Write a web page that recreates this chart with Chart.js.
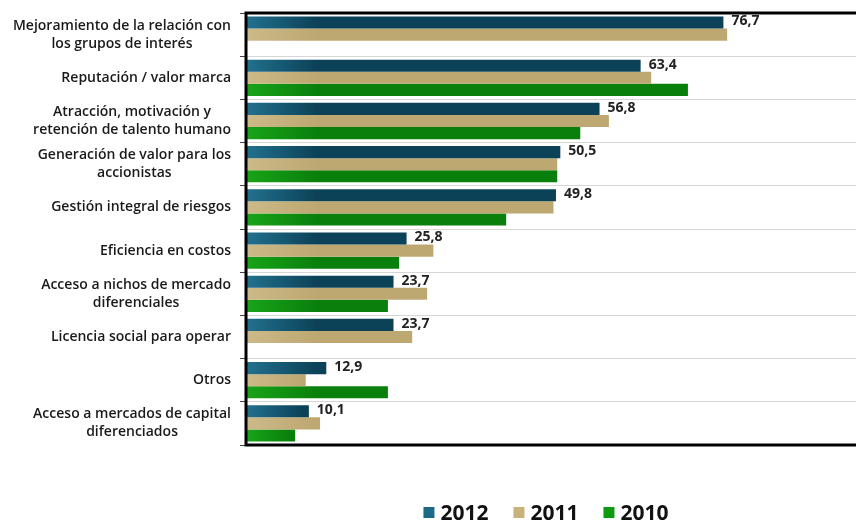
<!DOCTYPE html>
<html>
<head>
<meta charset="utf-8">
<script src="https://cdn.jsdelivr.net/npm/chart.js@4/dist/chart.umd.min.js"></script>
<style>
  html, body { margin: 0; padding: 0; background: #fff; overflow: hidden; }
  #wrap { position: relative; width: 856px; height: 524px; }
  #legend {
    position: absolute; left: 546px; top: 497px; transform: translateX(-50%);
    display: flex; gap: 25px; font-family: "Open Sans", Lato, sans-serif;
    font-weight: 700; font-size: 21px; line-height: 30px; color: #111; white-space: nowrap;
  }
  #legend .item { display: flex; align-items: center; }
  #legend .sw { width: 11px; height: 11px; margin-right: 6px; margin-top: 1px; }
</style>
</head>
<body>
<div id="wrap">
  <canvas id="c" width="856" height="524"></canvas>
  <div id="legend"></div>
</div>
<script>
const categories = [
  ["Mejoramiento de la relación con", "los grupos de interés"],
  ["Reputación / valor marca"],
  ["Atracción, motivación y", "retención de talento humano"],
  ["Generación de valor para los", "accionistas"],
  ["Gestión integral de riesgos"],
  ["Eficiencia en costos"],
  ["Acceso a nichos de mercado", "diferenciales"],
  ["Licencia social para operar"],
  ["Otros"],
  ["Acceso a mercados de capital", "diferenciados"]
];
const values2012 = [76.7, 63.4, 56.8, 50.5, 49.8, 25.8, 23.7, 23.7, 12.9, 10.1];
const values2011 = [77.3, 65.1, 58.3, 50.0, 49.4, 30.1, 29.1, 26.7, 9.6, 11.9];
const values2010 = [null, 71.0, 53.7, 50.0, 41.8, 24.6, 22.8, null, 22.8, 7.9];
const seriesNames = ["2012", "2011", "2010"];

// light-to-dark horizontal fill for each bar
function barGradient(light, dark) {
  return function (ctx) {
    const chart = ctx.chart;
    const area = chart.chartArea;
    const xs = chart.scales.x;
    if (!area || !xs || ctx.raw == null) return dark;
    const x0 = xs.getPixelForValue(0);
    const x1 = Math.max(xs.getPixelForValue(ctx.raw), x0 + 1);
    const g = chart.ctx.createLinearGradient(x0, 0, x1, 0);
    g.addColorStop(0, light);
    g.addColorStop(Math.min(0.9, 70 / (x1 - x0)), dark);
    g.addColorStop(1, dark);
    return g;
  };
}

const swatches = ["#1d6a88", "#c7b27c", "#0f9a12"];

// category labels drawn as centred multi-line blocks, right-aligned to the axis
const labelPlugin = {
  id: 'catLabels',
  afterDraw(chart) {
    const ys = chart.scales.y;
    const ctx = chart.ctx;
    ctx.save();
    ctx.font = "600 14px 'Open Sans', Lato, sans-serif";
    ctx.fillStyle = "#1a1a1a";
    ctx.textAlign = "center";
    ctx.textBaseline = "middle";
    const right = chart.chartArea.left - 15;
    const lh = 18;
    categories.forEach((lines, i) => {
      const yc = ys.getPixelForValue(i);
      const w = Math.max(...lines.map(l => ctx.measureText(l).width));
      const cx = right - w / 2;
      const y0 = yc - (lines.length - 1) * lh / 2;
      lines.forEach((l, k) => ctx.fillText(l, cx, y0 + k * lh));
    });
    // value labels for 2012 bars
    ctx.font = "700 14px 'Open Sans', Lato, sans-serif";
    ctx.textAlign = "left";
    ctx.fillStyle = "#222";
    const meta = chart.getDatasetMeta(0);
    meta.data.forEach((bar, i) => {
      const v = values2012[i];
      ctx.fillText(v.toFixed(1).replace('.', ','), bar.x + 8, bar.y - 1);
    });
    ctx.restore();
  }
};

// plot frame: left, top and bottom rules
const framePlugin = {
  id: 'frame',
  afterDatasetsDraw(chart) {
    const a = chart.chartArea;
    const ctx = chart.ctx;
    ctx.save();
    ctx.strokeStyle = "#000";
    ctx.lineWidth = 3;
    ctx.beginPath();
    ctx.moveTo(a.right + 2, a.top);
    ctx.lineTo(a.left, a.top);
    ctx.lineTo(a.left, a.bottom);
    ctx.lineTo(a.right + 2, a.bottom);
    ctx.stroke();
    ctx.restore();
  }
};

const chart = new Chart(document.getElementById('c'), {
  type: 'bar',
  data: {
    labels: categories,
    datasets: [
      { label: seriesNames[0], data: values2012, backgroundColor: barGradient("#22718f", "#0c4258") },
      { label: seriesNames[1], data: values2011, backgroundColor: barGradient("#ccba88", "#bea872") },
      { label: seriesNames[2], data: values2010, backgroundColor: barGradient("#18a418", "#0a800c") }
    ]
  },
  options: {
    indexAxis: 'y',
    responsive: false,
    animation: false,
    layout: { padding: { top: 13, bottom: 71, left: 0, right: 0 } },
    datasets: { bar: { categoryPercentage: 0.84, barPercentage: 1.0 } },
    scales: {
      x: {
        min: 0, max: 98,
        grid: { display: false },
        ticks: { display: false },
        border: { display: false }
      },
      y: {
        grid: { color: "#d6d6d6", lineWidth: 1, tickLength: 6, tickColor: "#444", offset: true },
        ticks: { display: false },
        border: { display: false },
        afterFit(scale) { scale.width = 246; }
      }
    },
    plugins: {
      legend: { display: false },
      tooltip: { enabled: false }
    }
  },
  plugins: [labelPlugin, framePlugin]
});

// legend built from the chart's datasets
const legendEl = document.getElementById('legend');
chart.data.datasets.forEach((ds, i) => {
  const item = document.createElement('div');
  item.className = 'item';
  const sw = document.createElement('span');
  sw.className = 'sw';
  sw.style.background = swatches[i];
  const tx = document.createElement('span');
  tx.textContent = ds.label;
  item.appendChild(sw);
  item.appendChild(tx);
  legendEl.appendChild(item);
});
</script>
</body>
</html>
